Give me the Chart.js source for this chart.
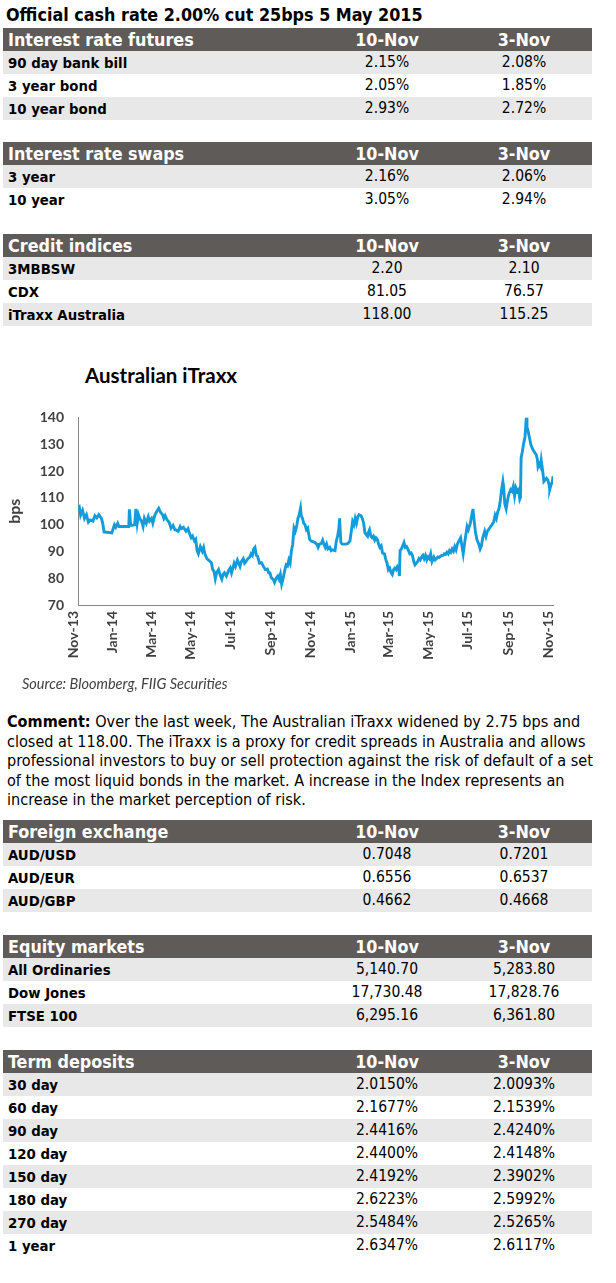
<!DOCTYPE html>
<html>
<head>
<meta charset="utf-8">
<script src="https://cdn.jsdelivr.net/npm/chart.js@4.4.1/dist/chart.umd.min.js"></script>
<style>
body { margin:0; background:#fff; width:616px; height:1283px; position:relative; overflow:hidden;
  font-family:"DejaVu Sans Condensed","DejaVu Sans",sans-serif; color:#000; }
.title { position:absolute; left:6px; top:4px; font-weight:bold; font-size:17.8px; white-space:nowrap; }
table.box { position:absolute; left:3px; width:589px; border-collapse:collapse; table-layout:fixed; }
table.box td, table.box th { height:23px; padding:0; line-height:23px; white-space:nowrap; }
table.box th { background:#5f5b58; color:#fff; font-size:17.8px; text-align:center; }
table.box th:first-child { text-align:left; padding-left:5px; }
table.box td { text-align:center; font-size:15.5px; }
table.box td:first-child { text-align:left; padding-left:5px; font-weight:bold; font-size:14.8px; }
table.box tbody tr:nth-child(odd) td { background:#e8e8e8; }
.chartTitle { position:absolute; left:85px; top:363px; font-family:Lato,sans-serif; font-weight:bold; font-size:20.5px; color:#000; }
.source { position:absolute; left:22px; top:675px; font-family:Lato,sans-serif; font-style:italic; font-size:14.5px; color:#404040; }
.comment { position:absolute; left:7px; top:712px; font-size:16.1px; line-height:19.5px; white-space:nowrap; }
#chartOne { position:absolute; left:0; top:395px; }
</style>
</head>
<body>
<div class="title">Official cash rate 2.00% cut 25bps 5 May 2015</div>

<table class="box" id="tFutures" style="top:28px"></table>
<table class="box" id="tSwaps" style="top:142px"></table>
<table class="box" id="tCredit" style="top:234px"></table>

<div class="chartTitle">Australian iTraxx</div>
<canvas id="chartOne" width="600" height="285"></canvas>
<div class="source">Source: Bloomberg, FIIG Securities</div>

<div class="comment"><b>Comment:</b> Over the last week, The Australian iTraxx widened by 2.75 bps and<br>closed at 118.00. The iTraxx is a proxy for credit spreads in Australia and allows<br>professional investors to buy or sell protection against the risk of default of a set<br>of the most liquid bonds in the market. A increase in the Index represents an<br>increase in the market perception of risk.</div>

<table class="box" id="tFx" style="top:820px"></table>
<table class="box" id="tEquity" style="top:935px"></table>
<table class="box" id="tDeposits" style="top:1050px"></table>

<script>
// table data
const colHeads = ['10-Nov', '3-Nov'];

const futuresRows = ['90 day bank bill', '3 year bond', '10 year bond'];
const futuresNow = ['2.15%', '2.05%', '2.93%'];
const futuresPrev = ['2.08%', '1.85%', '2.72%'];

const swapRows = ['3 year', '10 year'];
const swapNow = ['2.16%', '3.05%'];
const swapPrev = ['2.06%', '2.94%'];

const creditRows = ['3MBBSW', 'CDX', 'iTraxx Australia'];
const creditNow = ['2.20', '81.05', '118.00'];
const creditPrev = ['2.10', '76.57', '115.25'];

const fxRows = ['AUD/USD', 'AUD/EUR', 'AUD/GBP'];
const fxNow = ['0.7048', '0.6556', '0.4662'];
const fxPrev = ['0.7201', '0.6537', '0.4668'];

const equityRows = ['All Ordinaries', 'Dow Jones', 'FTSE 100'];
const equityNow = ['5,140.70', '17,730.48', '6,295.16'];
const equityPrev = ['5,283.80', '17,828.76', '6,361.80'];

const depositRows = ['30 day', '60 day', '90 day', '120 day', '150 day', '180 day', '270 day', '1 year'];
const depositNow = ['2.0150%', '2.1677%', '2.4416%', '2.4400%', '2.4192%', '2.6223%', '2.5484%', '2.6347%'];
const depositPrev = ['2.0093%', '2.1539%', '2.4240%', '2.4148%', '2.3902%', '2.5992%', '2.5265%', '2.6117%'];

// chart data (days counted from 10-Nov-2013)
const tickDays = [0, 61, 120, 181, 242, 304, 365, 426, 485, 546, 607, 669, 730];
const tickLabels = ['Nov-13', 'Jan-14', 'Mar-14', 'May-14', 'Jul-14', 'Sep-14', 'Nov-14', 'Jan-15', 'Mar-15', 'May-15', 'Jul-15', 'Sep-15', 'Nov-15'];

const dayOffsets = [
  0, 2, 4, 7, 10, 13, 16, 19, 23, 26, 29, 32, 36, 38, 40, 52, 54, 56, 58, 61, 63, 66, 78, 79, 81, 83, 87, 89, 91, 93,
  95, 98, 100, 102, 105, 108, 110, 113, 115, 118, 121, 124, 127, 130, 132, 134, 137, 140, 143, 146, 149,
  150, 154, 157, 159, 162, 166, 169, 171, 174, 176, 179, 181, 183, 185, 188, 191, 193, 195, 198, 202, 205, 207, 209, 211,
  213, 216, 219, 221, 223, 225, 228, 231, 234, 236, 240, 242, 245, 247, 249, 251, 254, 256, 258, 261, 264, 266, 268, 270,
  272, 274, 276, 279, 282, 285, 288, 291, 293,
  295, 297, 300, 302, 305, 307, 309, 311, 313, 315, 318, 320, 322, 324, 326, 328, 330, 332, 334, 336, 338, 340, 342, 343,
  345, 347, 349, 351, 353, 356, 358, 361, 364, 367, 369, 371, 374, 376, 378, 380, 382, 384, 387, 389, 391, 395, 397, 399,
  401, 402, 404, 406, 409, 412, 415, 418, 420, 422, 424, 426, 428, 430, 432, 435, 437, 439, 441, 443, 445,
  446, 448, 450, 452, 454, 456, 458, 460, 462, 464, 466, 468, 471, 473, 475, 477, 479, 481, 483, 485, 487, 489, 491, 493,
  494, 495, 497, 499, 501, 503, 505, 508, 510, 512, 514, 516, 518, 520, 522, 524, 526, 528, 530, 532, 534, 536, 538, 540,
  542, 544, 547, 549, 551, 553, 555, 557, 559, 561, 563, 565, 567, 569, 571, 573, 575, 577, 579, 581, 583, 586, 588, 590, 592,
  595, 598, 600, 603, 606, 607, 609, 611, 613, 616, 618, 620, 622, 625, 627, 629, 631, 634, 636, 639, 641, 643, 645, 647,
  649, 651, 653, 654, 656, 658, 660, 662, 665, 667, 669, 671, 673, 675, 677, 679, 680, 681, 683, 685, 687, 689, 690, 692,
  694, 696, 699, 702, 704, 706, 707, 709, 711, 712, 714, 716, 718, 720, 722, 724, 725, 727, 729, 730
];
const itraxx = [
  105.9, 106.5, 103.5, 105.3, 102.3, 103.7, 100.9, 101.7, 101.3, 103.3, 102.5, 103.7, 102.3, 100.5, 97.3, 96.9, 98.5, 99.9, 99.0, 100.5, 99.3, 99.3, 99.3, 105.7, 99.7, 99.7, 99.9, 105.9, 100.5, 103.7,
  102.3, 101.1, 99.3, 102.3, 100.5, 102.9, 101.3, 102.3, 100.5, 103.5, 104.9, 106.1, 104.5, 103.7, 102.3, 103.3, 101.7, 100.9, 98.7, 99.7, 98.1,
  98.1, 97.5, 99.3, 98.5, 99.0, 97.5, 98.5, 96.9, 95.1, 95.7, 93.9, 94.5, 90.3, 89.1, 91.8, 90.1, 91.5, 89.1, 87.3, 86.5, 85.8, 83.2, 82.6, 79.8,
  82.0, 83.2, 80.8, 79.6, 81.4, 82.0, 80.8, 82.6, 83.8, 82.0, 85.6, 84.4, 86.8, 85.6, 84.4, 86.2, 87.3, 85.6, 86.2, 87.3, 87.9, 89.1, 88.5, 90.9,
  91.5, 88.5, 88.2, 85.6, 85.8, 84.4, 83.2, 83.4, 82.0,
  82.0, 80.2, 79.6, 78.4, 80.2, 80.8, 79.6, 81.4, 77.8, 79.6, 83.2, 85.0, 84.6, 86.8, 85.6, 90.3, 92.7, 98.7, 97.5, 99.3, 102.3, 103.7, 106.1, 103.5,
  102.3, 100.5, 99.9, 98.1, 98.7, 94.5, 93.9, 93.7, 93.3, 92.7, 91.5, 92.7, 93.0, 94.2, 92.7, 91.5, 92.7, 90.9, 91.5, 90.3, 90.6, 90.3, 93.9, 95.7,
  98.7, 102.3, 93.3, 92.7, 92.7, 92.7, 93.0, 93.9, 97.5, 101.1, 99.9, 102.3, 100.5, 102.9, 103.7, 103.3, 102.3, 100.5, 96.9, 96.3, 95.7,
  96.9, 98.1, 95.7, 95.1, 95.7, 94.2, 95.1, 94.5, 92.7, 91.5, 92.1, 89.4, 89.1, 87.0, 85.6, 83.2, 83.8, 82.2, 81.4, 83.2, 83.8, 83.2, 84.4, 83.8,
  80.8, 90.3, 90.9, 92.1, 93.3, 91.5, 91.8, 90.3, 89.1, 89.4, 88.5, 86.2, 85.0, 85.6, 86.2, 87.3, 86.8, 87.9, 88.5, 87.3, 88.5, 86.8, 87.9, 87.3,
  89.1, 86.2, 87.9, 86.8, 87.3, 87.9, 87.7, 88.2, 88.5, 88.5, 89.1, 88.9, 89.7, 89.1, 90.3, 89.7, 90.9, 90.1, 91.8, 90.6, 92.7, 94.2, 95.1, 92.1, 89.1,
  94.5, 99.3, 98.1, 100.5, 104.7, 105.9, 101.1, 96.9, 94.5, 92.7, 90.9, 92.1, 95.1, 97.5, 95.7, 97.5, 98.1, 99.3, 99.9, 101.1, 103.5, 102.3, 104.7, 105.9,
  108.9, 113.1, 116.1, 114.3, 107.7, 105.9, 108.9, 111.3, 113.1, 112.5, 114.3, 110.7, 113.7, 112.5, 113.1, 109.5, 110.1, 125.0, 127.4, 130.4, 132.8, 140.0, 136.4, 134.6,
  132.2, 129.8, 128.0, 126.8, 126.2, 124.4, 121.5, 122.6, 121.5, 123.8, 120.3, 116.1, 116.7, 117.3, 116.7, 114.9, 113.1, 114.9, 116.1, 118.0
];

// build a table from its arrays
function fillTable(id, heading, rows, now, prev) {
    const table = document.getElementById(id);
    let html = `<colgroup><col style="width:315px"><col style="width:138px"><col style="width:136px"></colgroup>`;
    html += `<thead><tr><th>${heading}</th><th>${colHeads[0]}</th><th>${colHeads[1]}</th></tr></thead><tbody>`;
    for (let i = 0; i < rows.length; i++) {
        html += `<tr><td>${rows[i]}</td><td>${now[i]}</td><td>${prev[i]}</td></tr>`;
    }
    table.innerHTML = html + '</tbody>';
}

fillTable('tFutures', 'Interest rate futures', futuresRows, futuresNow, futuresPrev);
fillTable('tSwaps', 'Interest rate swaps', swapRows, swapNow, swapPrev);
fillTable('tCredit', 'Credit indices', creditRows, creditNow, creditPrev);
fillTable('tFx', 'Foreign exchange', fxRows, fxNow, fxPrev);
fillTable('tEquity', 'Equity markets', equityRows, equityNow, equityPrev);
fillTable('tDeposits', 'Term deposits', depositRows, depositNow, depositPrev);

// iTraxx line chart
const tickFont = { family: 'Lato', weight: 'bold', size: 14 };
const axisGrid = { display: true, drawOnChartArea: false, drawTicks: false, color: '#868686' };
const axisBorder = { display: true, color: '#868686', width: 1 };

var ctxOne = document.getElementById('chartOne').getContext('2d');
var chartOne = new Chart(ctxOne, {
    type: 'line',
    data: {
        datasets: [{
            label: 'Australian iTraxx',
            data: dayOffsets.map((d, i) => ({ x: d, y: itraxx[i] })),
            borderColor: '#149cda',
            borderWidth: 2.9,
            pointRadius: 0,
            tension: 0,
            fill: false
        }]
    },
    options: {
        responsive: false,
        animation: false,
        layout: { padding: { top: 15, right: 47, left: 0, bottom: 0 } },
        plugins: {
            legend: { display: false },
            tooltip: { enabled: false }
        },
        scales: {
            x: {
                type: 'linear',
                min: 0,
                max: 730,
                afterBuildTicks: s => { s.ticks = tickDays.map(v => ({ value: v })); },
                afterFit: s => { s.height = 75; },
                ticks: {
                    callback: (v, i) => tickLabels[i],
                    autoSkip: false,
                    minRotation: 90,
                    maxRotation: 90,
                    padding: 6,
                    labelOffset: -5,
                    color: '#404040',
                    font: tickFont
                },
                grid: axisGrid,
                border: axisBorder
            },
            y: {
                min: 70,
                max: 140,
                afterFit: s => { s.width = 78; },
                ticks: { stepSize: 10, padding: 14, color: '#404040', font: tickFont },
                title: {
                    display: true,
                    text: 'bps',
                    color: '#404040',
                    font: { family: 'Lato', weight: 'bold', size: 16 },
                    padding: { top: 5, bottom: 0 }
                },
                grid: axisGrid,
                border: axisBorder
            }
        }
    }
});
</script>
</body>
</html>
